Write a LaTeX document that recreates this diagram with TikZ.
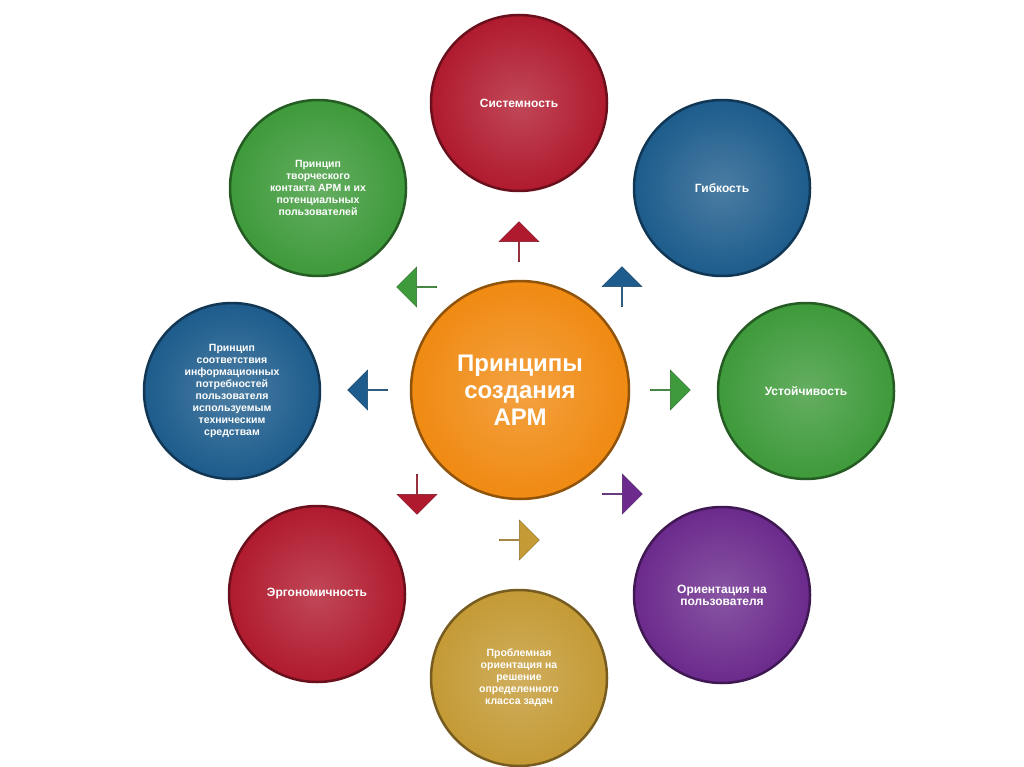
\documentclass[tikz,border=0pt]{standalone}
\usepackage{fontspec}
\setmainfont{Liberation Sans}
\usetikzlibrary{shapes.arrows}
\definecolor{cred}{HTML}{B01A2E}
\definecolor{cblue}{HTML}{1D5C8C}
\definecolor{cgreen}{HTML}{3E9A3A}
\definecolor{cpurple}{HTML}{6B2A8C}
\definecolor{cgold}{HTML}{C49A35}
\definecolor{corange}{HTML}{F08A12}
\tikzset{
 ball/.style={circle,minimum size=176pt,inner sep=0pt,draw=#1!60!black,line width=2.5pt,
   inner color=#1!80!white,outer color=#1,text=white,font=\bfseries\fontsize{12}{12}\selectfont,align=center},
 arr/.style={single arrow,fill=#1,draw=#1!70!black,minimum width=40pt,minimum height=40pt,
   single arrow head extend=6pt,inner sep=0pt}
}
\begin{document}
\begin{tikzpicture}[x=1pt,y=-1pt]
\useasboundingbox (0,0) rectangle (1024,767);
\node[ball=cred] (n1) at (519,103) {Системность};
\node[ball=cblue] (n2) at (722,188) {Гибкость};
\node[ball=cgreen] (n3) at (806,391) {Устойчивость};
\node[ball=cpurple] (n4) at (722,595) {Ориентация на\\пользователя};
\node[ball=cgold] (n5) at (519,678) {\fontsize{10.5}{11.5}\selectfont Проблемная\\ \fontsize{10.5}{11.5}\selectfont ориентация на\\ \fontsize{10.5}{11.5}\selectfont решение\\ \fontsize{10.5}{11.5}\selectfont определенного\\ \fontsize{10.5}{11.5}\selectfont класса задач};
\node[ball=cred] (n6) at (317,594) {Эргономичность};
\node[ball=cblue] (n7) at (232,391) {\fontsize{10.5}{11.5}\selectfont Принцип\\ \fontsize{10.5}{11.5}\selectfont соответствия\\ \fontsize{10.5}{11.5}\selectfont информационных\\ \fontsize{10.5}{11.5}\selectfont потребностей\\ \fontsize{10.5}{11.5}\selectfont пользователя\\ \fontsize{10.5}{11.5}\selectfont используемым\\ \fontsize{10.5}{11.5}\selectfont техническим\\ \fontsize{10.5}{11.5}\selectfont средствам};
\node[ball=cgreen] (n8) at (318,188) {\fontsize{10.5}{11.5}\selectfont Принцип\\ \fontsize{10.5}{11.5}\selectfont творческого\\ \fontsize{10.5}{11.5}\selectfont контакта АРМ и их\\ \fontsize{10.5}{11.5}\selectfont потенциальных\\ \fontsize{10.5}{11.5}\selectfont пользователей};
\node[ball=corange,minimum size=218pt,font=\bfseries\fontsize{24}{27}\selectfont] (c) at (520,390) {Принципы\\создания\\АРМ};
\node[arr=cred,shape border rotate=90] (a1) at (519,242) {};
\node[arr=cblue,shape border rotate=45] (a2) at (622,287) {};
\node[arr=cgreen,shape border rotate=0] (a3) at (670,390) {};
\node[arr=cpurple,shape border rotate=-45] (a4) at (622,494) {};
\node[arr=cgold,shape border rotate=-90] (a5) at (519,540) {};
\node[arr=cred,shape border rotate=-135] (a6) at (417,494) {};
\node[arr=cblue,shape border rotate=180] (a7) at (368,390) {};
\node[arr=cgreen,shape border rotate=135] (a8) at (417,287) {};
\end{tikzpicture}
\end{document}
